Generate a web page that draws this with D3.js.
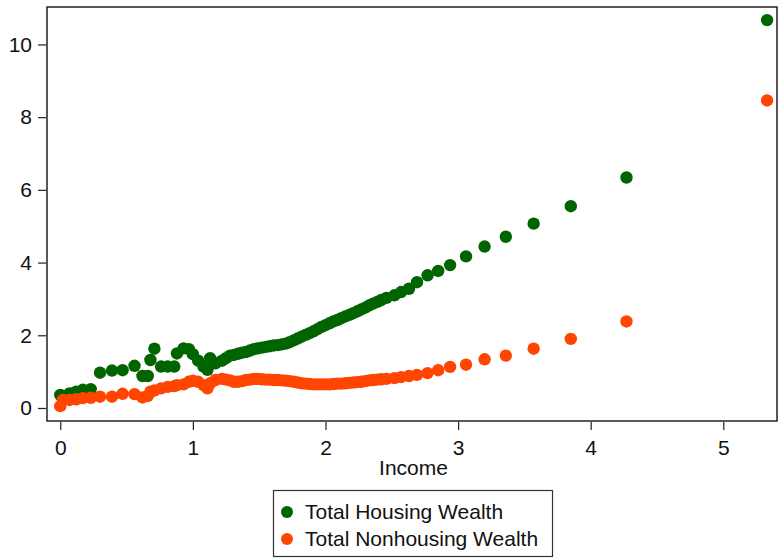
<!DOCTYPE html>
<html>
<head>
<meta charset="utf-8">
<script src="https://cdn.jsdelivr.net/npm/d3@7"></script>
<style>
  html, body { margin: 0; padding: 0; background: #fff; }
  svg { display: block; font-family: "Liberation Sans", Arial, sans-serif; }
</style>
</head>
<body>
<svg id="chart" width="779" height="559"></svg>
<script>
// ---- data ----
const income = [
  0.00, 0.02, 0.07, 0.12, 0.17, 0.23, 0.30, 0.39, 0.47, 0.56,
  0.62, 0.66, 0.68, 0.71, 0.76, 0.81, 0.86, 0.88, 0.93, 0.97,
  1.00, 1.04, 1.08, 1.11, 1.13, 1.17,
  1.22, 1.25, 1.28, 1.31, 1.34, 1.37, 1.40, 1.43, 1.46, 1.49,
  1.52, 1.55, 1.58, 1.61, 1.64, 1.67, 1.70, 1.73, 1.76, 1.79,
  1.82, 1.85, 1.88, 1.91, 1.94, 1.97, 2.00, 2.03, 2.06, 2.09,
  2.12, 2.15, 2.18, 2.21, 2.24, 2.27, 2.30, 2.33, 2.36, 2.39,
  2.42, 2.46, 2.52, 2.57, 2.63, 2.69, 2.77, 2.85, 2.94, 3.06,
  3.20, 3.36, 3.57, 3.85, 4.27, 5.33
];
const housingWealth = [
  0.36, 0.33, 0.40, 0.45, 0.50, 0.52, 0.97, 1.03, 1.04, 1.16,
  0.88, 0.88, 1.32, 1.63, 1.14, 1.14, 1.14, 1.50, 1.64, 1.62,
  1.48, 1.30, 1.14, 1.05, 1.37, 1.23,
  1.30, 1.37, 1.44, 1.46, 1.49, 1.52, 1.54, 1.58, 1.62, 1.64,
  1.66, 1.68, 1.70, 1.72, 1.73, 1.75, 1.77, 1.81, 1.86, 1.91,
  1.96, 2.01, 2.06, 2.11, 2.17, 2.23, 2.28, 2.33, 2.38, 2.42,
  2.47, 2.52, 2.56, 2.61, 2.66, 2.71, 2.76, 2.82, 2.87, 2.92,
  2.97, 3.03, 3.10, 3.19, 3.28, 3.46, 3.65, 3.77, 3.93, 4.17,
  4.44, 4.71, 5.07, 5.55, 6.34, 10.67
];
const nonhousingWealth = [
  0.05, 0.22, 0.22, 0.24, 0.27, 0.28, 0.31, 0.31, 0.39, 0.38,
  0.29, 0.33, 0.45, 0.48, 0.54, 0.58, 0.60, 0.63, 0.65, 0.72,
  0.75, 0.72, 0.63, 0.54, 0.68, 0.77,
  0.80, 0.78, 0.76, 0.72, 0.72, 0.74, 0.77, 0.78, 0.80, 0.80,
  0.79, 0.78, 0.78, 0.77, 0.77, 0.76, 0.75, 0.74, 0.72, 0.70,
  0.68, 0.67, 0.66, 0.65, 0.65, 0.65, 0.65, 0.65, 0.66, 0.67,
  0.67, 0.68, 0.69, 0.70, 0.71, 0.72, 0.74, 0.76, 0.77, 0.78,
  0.79, 0.80, 0.82, 0.85, 0.88, 0.91, 0.96, 1.04, 1.13, 1.19,
  1.34, 1.44, 1.63, 1.90, 2.38, 8.46
];
const seriesNames = ["Total Housing Wealth", "Total Nonhousing Wealth"];
const seriesColors = ["#006400", "#ff4500"];
const xTicks = [0, 1, 2, 3, 4, 5];
const yTicks = [0, 2, 4, 6, 8, 10];
const xTitle = "Income";

// ---- layout ----
const svg = d3.select("#chart");
const plot = { left: 47, right: 777, top: 7, bottom: 421 };
const fontSize = "21px";

const x = d3.scaleLinear().domain([-0.1, 5.405]).range([plot.left, plot.right]);
const y = d3.scaleLinear().domain([-0.358, 11.03]).range([plot.bottom, plot.top]);

// points
const seriesData = [housingWealth, nonhousingWealth];
seriesData.forEach((vals, si) => {
  svg.append("g")
    .selectAll("circle")
    .data(income.map((xv, i) => ({ x: xv, y: vals[i] })))
    .join("circle")
    .attr("cx", d => x(d.x))
    .attr("cy", d => y(d.y))
    .attr("r", 6.2)
    .attr("fill", seriesColors[si]);
});

// frame
svg.append("rect")
  .attr("x", plot.left).attr("y", plot.top)
  .attr("width", plot.right - plot.left).attr("height", plot.bottom - plot.top)
  .attr("fill", "none").attr("stroke", "#222").attr("stroke-width", 1.5);

// axes
const xAxis = svg.append("g")
  .attr("transform", `translate(0,${plot.bottom + 1})`)
  .call(d3.axisBottom(x).tickValues(xTicks).tickFormat(d3.format("d")).tickSize(8).tickPadding(10).tickSizeOuter(0));
const yAxis = svg.append("g")
  .attr("transform", `translate(${plot.left - 1},0)`)
  .call(d3.axisLeft(y).tickValues(yTicks).tickFormat(d3.format("d")).tickSize(8).tickPadding(6).tickSizeOuter(0));
[xAxis, yAxis].forEach(g => {
  g.select(".domain").remove();
  g.selectAll(".tick line").attr("stroke", "#222").attr("stroke-width", 1.2);
  g.selectAll(".tick text").attr("fill", "#111").style("font-size", fontSize)
    .style("font-family", '"Liberation Sans", Arial, sans-serif');
});

// x title
svg.append("text")
  .attr("x", 413.5)
  .attr("y", 475)
  .attr("text-anchor", "middle")
  .attr("fill", "#111")
  .style("font-size", fontSize)
  .text(xTitle);

// legend
const legend = svg.append("g");
legend.append("rect")
  .attr("x", 273.5).attr("y", 490.5).attr("width", 279).attr("height", 66)
  .attr("fill", "#fff").attr("stroke", "#333").attr("stroke-width", 1.2);
seriesNames.forEach((name, i) => {
  const cy = 512 + i * 27;
  legend.append("circle").attr("cx", 287).attr("cy", cy).attr("r", 6).attr("fill", seriesColors[i]);
  legend.append("text").attr("x", 305).attr("y", cy + 7)
    .attr("fill", "#111").style("font-size", fontSize).text(name);
});
</script>
</body>
</html>
